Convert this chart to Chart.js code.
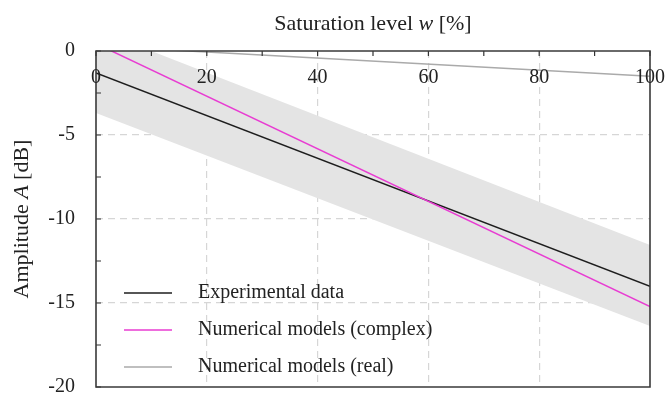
<!DOCTYPE html>
<html>
<head>
<meta charset="utf-8">
<script src="https://cdn.jsdelivr.net/npm/chart.js@4.4.1/dist/chart.umd.min.js"></script>
<style>
  html, body { margin: 0; padding: 0; background: #fff; overflow: hidden; }
  canvas { display: block; }
</style>
</head>
<body>
<canvas id="chart" width="667" height="397"></canvas>
<script>
// saturation level w [%] at the ends of each fitted line
const saturation = [0, 100];
const experimental = [-1.3, -14.0];
const complexModel = [0.44, -15.22];
const realModel = [0.3, -1.5];
// grey uncertainty band around the experimental fit
const bandUpper = [1.28, -11.55];
const bandLower = [-3.69, -16.37];

const SERIF = "'Liberation Serif', 'Times New Roman', serif";

function points(ys) {
  return saturation.map((x, i) => ({ x: x, y: ys[i] }));
}

function xLabel(v) {
  return v % 20 === 0 ? String(v) : '';
}

/**
 * Draws text made of plain and italic pieces, centred on (0, 0)
 */
function drawMixed(ctx, parts, size) {
  let total = 0;
  parts.forEach((p) => {
    ctx.font = (p.italic ? 'italic ' : '') + size + 'px ' + SERIF;
    p.w = ctx.measureText(p.text).width;
    total += p.w;
  });
  let x = -total / 2;
  parts.forEach((p) => {
    ctx.font = (p.italic ? 'italic ' : '') + size + 'px ' + SERIF;
    ctx.fillText(p.text, x, 0);
    x += p.w;
  });
}

const framePlugin = {
  id: 'frame',
  afterDraw(chart) {
    const ctx = chart.ctx;
    const xs = chart.scales.x;
    const ys = chart.scales.y;
    const left = xs.getPixelForValue(xs.min);
    const right = xs.getPixelForValue(xs.max);
    const top = ys.getPixelForValue(ys.max);
    const bottom = ys.getPixelForValue(ys.min);
    ctx.save();

    // inward tick marks
    ctx.strokeStyle = '#333';
    ctx.lineWidth = 1.2;
    ctx.beginPath();
    xs.ticks.forEach((t) => {
      const px = xs.getPixelForValue(t.value);
      ctx.moveTo(px, top);
      ctx.lineTo(px, top + 5);
    });
    ys.ticks.forEach((t) => {
      const py = ys.getPixelForValue(t.value);
      ctx.moveTo(left, py);
      ctx.lineTo(left + 5, py);
    });
    ctx.stroke();

    // frame
    ctx.strokeStyle = '#3a3a3a';
    ctx.lineWidth = 1.6;
    ctx.beginPath();
    ctx.moveTo(left, top);
    ctx.lineTo(right, top);
    ctx.lineTo(right, bottom);
    ctx.lineTo(left, bottom);
    ctx.closePath();
    ctx.stroke();

    // x tick labels sit inside the plot, under the top edge
    ctx.fillStyle = '#222';
    ctx.textBaseline = 'middle';
    ctx.textAlign = 'center';
    ctx.font = '20px ' + SERIF;
    xs.ticks.forEach((t) => {
      ctx.fillText(xLabel(t.value), xs.getPixelForValue(t.value), top + 27);
    });

    // axis titles
    ctx.textAlign = 'left';
    ctx.save();
    ctx.translate((left + right) / 2, 24);
    drawMixed(ctx, [{ text: 'Saturation level ' }, { text: 'w', italic: true }, { text: ' [%]' }], 22);
    ctx.restore();

    ctx.save();
    ctx.translate(22, (top + bottom) / 2);
    ctx.rotate(-Math.PI / 2);
    drawMixed(ctx, [{ text: 'Amplitude ' }, { text: 'A', italic: true }, { text: ' [dB]' }], 22);
    ctx.restore();

    // legend
    const rows = chart.data.datasets.filter((d) => d.label);
    rows.forEach((d, i) => {
      const y = 293 + i * 37;
      ctx.strokeStyle = d.borderColor;
      ctx.lineWidth = 1.6;
      ctx.beginPath();
      ctx.moveTo(124, y);
      ctx.lineTo(172, y);
      ctx.stroke();
      ctx.font = '20px ' + SERIF;
      ctx.fillStyle = '#222';
      ctx.fillText(d.label, 198, y);
    });

    ctx.restore();
  },
};

function noPadding(s) {
  s.paddingTop = 0;
  s.paddingBottom = 0;
  s.paddingLeft = 0;
  s.paddingRight = 0;
}

const ctx = document.getElementById('chart').getContext('2d');
const chart = new Chart(ctx, {
  type: 'line',
  data: {
    datasets: [
      {
        label: 'Experimental data',
        data: points(experimental),
        borderColor: '#1e1e1e',
        borderWidth: 1.5,
        pointRadius: 0,
        order: 1,
      },
      {
        label: 'Numerical models (complex)',
        data: points(complexModel),
        borderColor: '#e83cd2',
        borderWidth: 1.5,
        pointRadius: 0,
        order: 0,
      },
      {
        label: 'Numerical models (real)',
        data: points(realModel),
        borderColor: '#aaaaaa',
        borderWidth: 1.5,
        pointRadius: 0,
        order: 2,
      },
      {
        data: points(bandUpper),
        borderWidth: 0,
        pointRadius: 0,
        backgroundColor: '#e4e4e4',
        fill: '+1',
        order: 10,
      },
      {
        data: points(bandLower),
        borderWidth: 0,
        pointRadius: 0,
        fill: false,
        order: 11,
      },
    ],
  },
  options: {
    responsive: false,
    animation: false,
    devicePixelRatio: 1,
    layout: { padding: { left: 0, right: 17, top: 0, bottom: 10 } },
    plugins: {
      legend: { display: false },
      tooltip: { enabled: false },
    },
    scales: {
      x: {
        type: 'linear',
        position: 'top',
        min: 0,
        max: 100,
        afterFit: (s) => { s.height = 51; noPadding(s); },
        ticks: {
          display: false,
          stepSize: 10,
          maxRotation: 0,
          autoSkip: false,
        },
        grid: {
          drawTicks: false,
          color: (c) => (c.tick && c.tick.value % 20 === 0 && c.tick.value > 0 && c.tick.value < 100 ? '#d6d6d6' : 'rgba(0,0,0,0)'),
          lineWidth: 1.2,
        },
        border: { display: false, dash: [7, 5] },
      },
      y: {
        min: -20,
        max: 0,
        afterFit: (s) => { s.width = 96; noPadding(s); },
        ticks: {
          stepSize: 2.5,
          autoSkip: false,
          padding: 21,
          color: '#222',
          font: { family: SERIF, size: 20 },
          callback: (v) => (v % 5 === 0 ? String(v) : ''),
        },
        grid: {
          drawTicks: false,
          color: (c) => (c.tick && c.tick.value % 5 === 0 && c.tick.value > -20 && c.tick.value < 0 ? '#d6d6d6' : 'rgba(0,0,0,0)'),
          lineWidth: 1.2,
        },
        border: { display: false, dash: [7, 5] },
      },
    },
  },
  plugins: [framePlugin],
});
</script>
</body>
</html>
